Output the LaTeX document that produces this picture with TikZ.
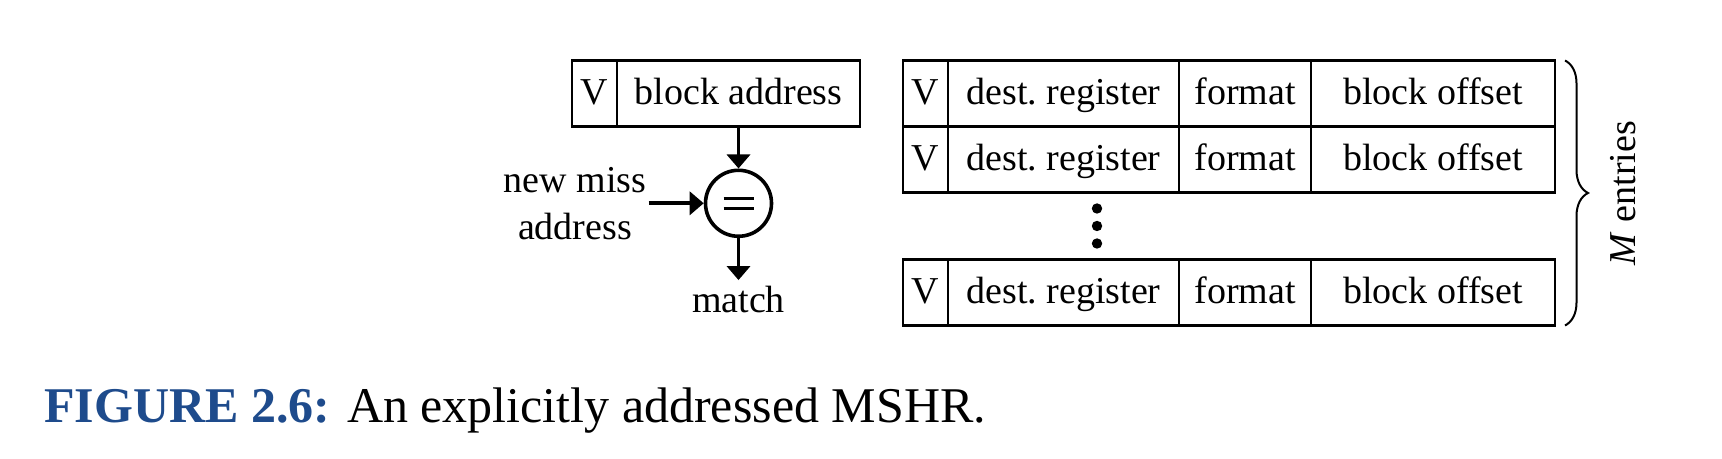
\documentclass[tikz,border=0pt]{standalone}
\usepackage{fontspec}
\setmainfont{Liberation Serif}
\usetikzlibrary{positioning,arrows.meta,decorations.pathreplacing}
\definecolor{figblue}{RGB}{30,75,140}

\begin{document}
\begin{tikzpicture}[font=\fontsize{19}{23.5}\selectfont,
  field/.style={draw, rectangle, line width=1.2pt, minimum height=33pt, inner sep=0pt, outer sep=0pt,
    text height=14pt, text depth=2.5pt},
  vbit/.style={field, minimum width=22.5pt},
  dest/.style={field, minimum width=115.5pt},
  fmt/.style={field, minimum width=66pt},
  offs/.style={field, minimum width=122pt},
  wire/.style={line width=1.9pt, -{Triangle[width=11.5pt,length=7pt]}}]
\useasboundingbox (0,0) rectangle (861pt,229.5pt);

\node (va) [vbit] at (462.75pt,182.75pt) {V};
\node (dsta) [dest, right=0pt of va] {dest.\ register};
\node (fmta) [fmt, right=0pt of dsta] {format};
\node (offa) [offs, right=0pt of fmta] {block offset};
\node (vb) [vbit, below=0pt of va] {V};
\node (dstb) [dest, right=0pt of vb] {dest.\ register};
\node (fmtb) [fmt, right=0pt of dstb] {format};
\node (offb) [offs, right=0pt of fmtb] {block offset};
\node (vm) [vbit, below=33.5pt of vb] {V};
\node (dstm) [dest, right=0pt of vm] {dest.\ register};
\node (fmtm) [fmt, right=0pt of dstm] {format};
\node (offm) [offs, right=0pt of fmtm] {block offset};

\coordinate (dots) at ([xshift=16.75pt,yshift=-8pt]dstb.south);
\foreach \k in {0,1,2}
  \fill ([yshift={-8.75pt*\k}]dots) circle (2.6pt);

\node (addr) [field, minimum width=121.5pt, left=21.5pt of va] {block address};
\node (vaddr) [vbit, left=0pt of addr] {V};
\node (eq) [circle, draw, line width=1.8pt, minimum size=33pt, inner sep=0pt, below=21pt of addr] {};
\draw[line width=1.4pt] ([xshift=-7.5pt,yshift=2.5pt]eq.center) -- ++(15pt,0);
\draw[line width=1.4pt] ([xshift=-7.5pt,yshift=-2.5pt]eq.center) -- ++(15pt,0);
\node (miss) [align=center, inner sep=1pt, left=27.5pt of eq] {new miss\\address};
\node (match) [inner sep=3pt, below=21pt of eq] {match};

\draw[wire] (addr) -- (eq);
\draw[wire] (miss) -- (eq);
\draw[wire] (eq) -- (match);

\draw[decorate, decoration={brace, amplitude=11.5pt}, line width=1pt]
  ([xshift=5pt]offa.north east) -- ([xshift=5pt]offm.south east) coordinate[midway] (mtip);
\node (mlab) [rotate=90, anchor=north, inner sep=0pt] at ([xshift=22.5pt]mtip) {\textit{M} entries};

\node (cap) [anchor=base west, inner sep=0pt, font=\fontsize{25}{29}\selectfont] at (22pt,18pt)
  {\textcolor{figblue}{\textbf{FIGURE 2.6:}} An explicitly addressed MSHR.};
\end{tikzpicture}
\end{document}
